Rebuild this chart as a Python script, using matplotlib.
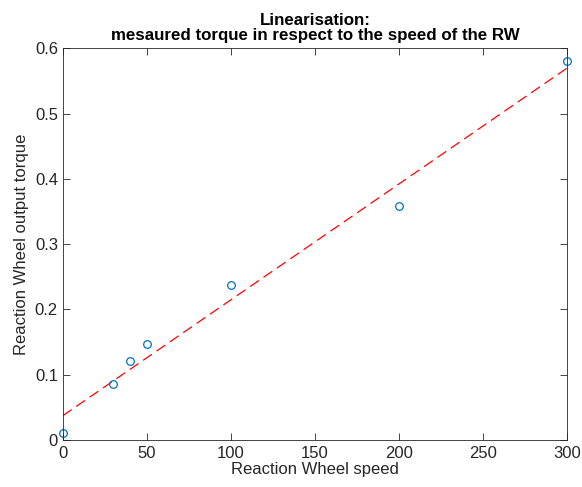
import numpy as np
import matplotlib
matplotlib.use("Agg")
import matplotlib.pyplot as plt

plt.rcParams['font.family'] = ['Liberation Sans', 'DejaVu Sans']

# measured points
speed = [0, 30, 40, 50, 100, 200, 300]
torque = [0.0103, 0.0853, 0.1204, 0.147, 0.237, 0.358, 0.580]

x_ticks = [0, 50, 100, 150, 200, 250, 300]
y_ticks = [0, 0.1, 0.2, 0.3, 0.4, 0.5, 0.6]
y_labels = ['0', '0.1', '0.2', '0.3', '0.4', '0.5', '0.6']

# linear fit of the measured torque
slope, intercept = np.polyfit(speed, torque, 1)
fit_x = np.array([0, 300])
fit_y = slope * fit_x + intercept

fig = plt.figure(figsize=(5.82, 4.87), dpi=100)
ax = fig.add_axes([0.108, 0.0965, 0.866, 0.8045])

ax.plot(fit_x, fit_y, color='red', linestyle=(0, (8.5, 4.5)), linewidth=0.9)
ax.plot(speed, torque, linestyle='none', marker='o', markersize=5.5,
        markerfacecolor='none', markeredgecolor='#0072BD', markeredgewidth=0.9,
        clip_on=False)

ax.set_xlim(0, 300)
ax.set_ylim(0, 0.6)
ax.set_xticks(x_ticks)
ax.set_yticks(y_ticks)
ax.set_yticklabels(y_labels)

grey = '#262626'
ax.tick_params(direction='in', length=5, width=0.6, colors=grey, labelsize=12,
               top=True, right=True)
ax.tick_params(axis='x', pad=4)
for spine in ax.spines.values():
    spine.set_color(grey)
    spine.set_linewidth(0.6)

ax.set_xlabel('Reaction Wheel speed', fontsize=12, color=grey, labelpad=1)
ax.set_ylabel('Reaction Wheel output torque', fontsize=12, color=grey, labelpad=4)
ax.set_title('Linearisation:\nmesaured torque in respect to the speed of the RW',
             fontsize=12.2, fontweight='bold', linespacing=1.0, pad=6)

fig.savefig('out.png', dpi=100)
